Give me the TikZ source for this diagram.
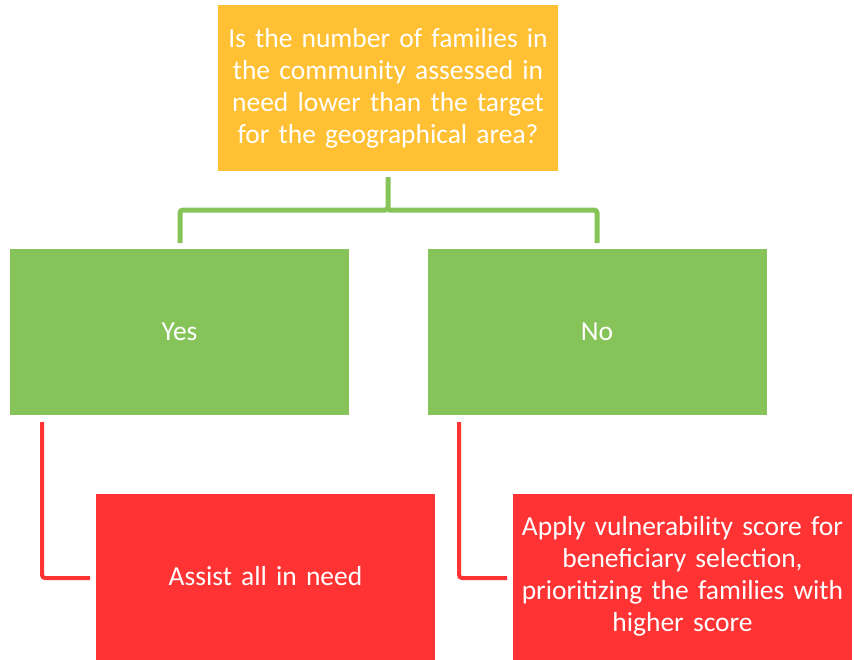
\documentclass[tikz,border=0pt]{standalone}
\usepackage{fontspec}
\setmainfont{Carlito}
\definecolor{qorange}{HTML}{FFC133}
\definecolor{qgreen}{HTML}{86C45A}
\definecolor{qred}{HTML}{FF3333}
\begin{document}
\begin{tikzpicture}[x=1pt,y=-1pt,
  boxbase/.style={inner sep=0pt, text=white, align=center, font=\fontsize{27.5}{32}\selectfont, minimum width=339pt, minimum height=166pt, text width=337pt},
  orangebox/.style={boxbase, fill=qorange},
  greenbox/.style={boxbase, fill=qgreen},
  redbox/.style={boxbase, fill=qred},
  gline/.style={draw=qgreen, line width=5pt, rounded corners=3pt},
  rline/.style={draw=qred, line width=4pt, rounded corners=3pt}]
\useasboundingbox (0,0) rectangle (854,659);
\node[orangebox, minimum width=340pt] (q) at (388,88) {Is the number of families in\\the community assessed in\\need lower than the target\\for the geographical area?};
\node[greenbox] (yes) at (179.5,332) {Yes};
\node[greenbox] (no) at (597,332) {No};
\node[redbox] (all) at (265.5,576.5) {Assist all in need};
\node[redbox] (score) at (682.5,576.5) {Apply vulnerability score for\\beneficiary selection,\\prioritizing the families with\\higher score};
\coordinate (gtop) at (388,177);
\coordinate (gl) at (180,243);
\coordinate (gr) at (597,243);
\draw[gline] (gtop) -- (388,210) -| (gl);
\draw[gline] (388,210) -| (gr);
\coordinate (r1s) at (42,422);
\coordinate (r1e) at (90,578);
\coordinate (r2s) at (459,422);
\coordinate (r2e) at (507,578);
\draw[rline] (r1s) |- (r1e);
\draw[rline] (r2s) |- (r2e);
\end{tikzpicture}
\end{document}
